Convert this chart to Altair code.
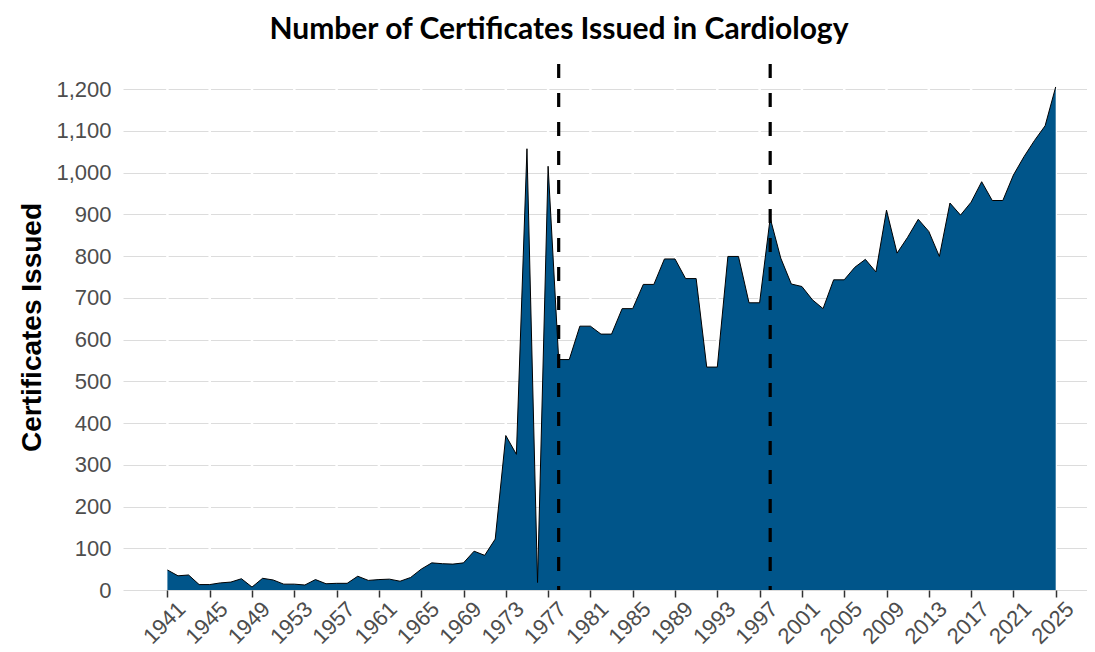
import altair as alt
import pandas as pd

years = list(range(1941, 2026))
certificates = [
    48, 34, 36, 13, 13, 17, 19, 27, 7, 28,        # 1941-1950
    24, 14, 14, 12, 25, 15, 16, 16, 33, 23,       # 1951-1960
    25, 26, 21, 30, 50, 65, 63, 62, 65, 93,       # 1961-1970
    83, 122, 370, 325, 1057, 18, 1015, 552, 552, 632,   # 1971-1980
    632, 613, 613, 674, 674, 732, 732, 793, 793, 746,   # 1981-1990
    746, 534, 534, 799, 799, 688, 688, 891, 795, 733,   # 1991-2000
    727, 695, 674, 743, 743, 773, 792, 762, 910, 807,   # 2001-2010
    845, 888, 859, 799, 927, 898, 929, 978, 933, 933,   # 2011-2020
    994, 1038, 1077, 1112, 1205,                        # 2021-2025
]
tick_years = list(range(1941, 2026, 4))
y_ticks = list(range(0, 1201, 100))
marker_years = [1978, 1998]

df = pd.DataFrame({"year": years, "certificates": certificates})
ticks_df = pd.DataFrame({"year": tick_years})
markers_df = pd.DataFrame({"year": marker_years})

x_scale = alt.Scale(domain=[1936.8, 2027.96], nice=False, zero=False)
y_scale = alt.Scale(domain=[0, 1260], nice=False, zero=True)

x_axis = alt.Axis(
    values=tick_years, format="d", labelAngle=-45, labelFontSize=22,
    labelColor="#4d4d4d", labelFont="Liberation Sans", labelPadding=1,
    labelOverlap=False, labelOffset=7,
    ticks=True, tickColor="#333333", tickSize=7, tickWidth=1.5,
    domain=False, grid=False, title=None,
)
y_axis = alt.Axis(
    values=y_ticks, format=",d", labelFontSize=22, labelColor="#4d4d4d",
    labelFont="Liberation Sans", labelPadding=12, ticks=False, domain=False,
    grid=True, gridColor="#dcdcdc", gridWidth=1,
    title="Certificates Issued", titleFont="Liberation Sans", titleFontSize=28,
    titleFontWeight="bold", titleColor="black", titlePadding=9,
)

white_grid = alt.Chart(ticks_df).mark_rule(color="white", strokeWidth=2.5).encode(
    x=alt.X("year:Q", scale=x_scale, axis=x_axis)
)

area = alt.Chart(df).mark_area(color="#00558A", opacity=1).encode(
    x=alt.X("year:Q", scale=x_scale, axis=x_axis),
    y=alt.Y("certificates:Q", scale=y_scale, axis=y_axis),
)

outline = alt.Chart(df).mark_line(color="black", strokeWidth=1).encode(
    x=alt.X("year:Q", scale=x_scale, axis=x_axis),
    y=alt.Y("certificates:Q", scale=y_scale, axis=y_axis),
)

dashed = alt.Chart(markers_df).mark_rule(
    color="black", strokeWidth=3.2, strokeDash=[14, 15]
).encode(x=alt.X("year:Q", scale=x_scale, axis=x_axis))

chart = alt.layer(white_grid, area, outline, dashed).properties(
    width=964,
    height=526,
    padding={"left": 115, "top": 56, "right": 0, "bottom": 60},
    autosize=alt.AutoSizeParams(type="none"),
    background="white",
    title=alt.TitleParams(
        "Number of Certificates Issued in Cardiology",
        font="Lato", fontSize=30, fontWeight="bold", color="black",
        anchor="middle", frame="bounds", offset=17, dx=6,
    ),
).configure_view(strokeWidth=0, stroke="transparent")

chart.save("out.html", embed_options={"renderer": "svg", "actions": False})
